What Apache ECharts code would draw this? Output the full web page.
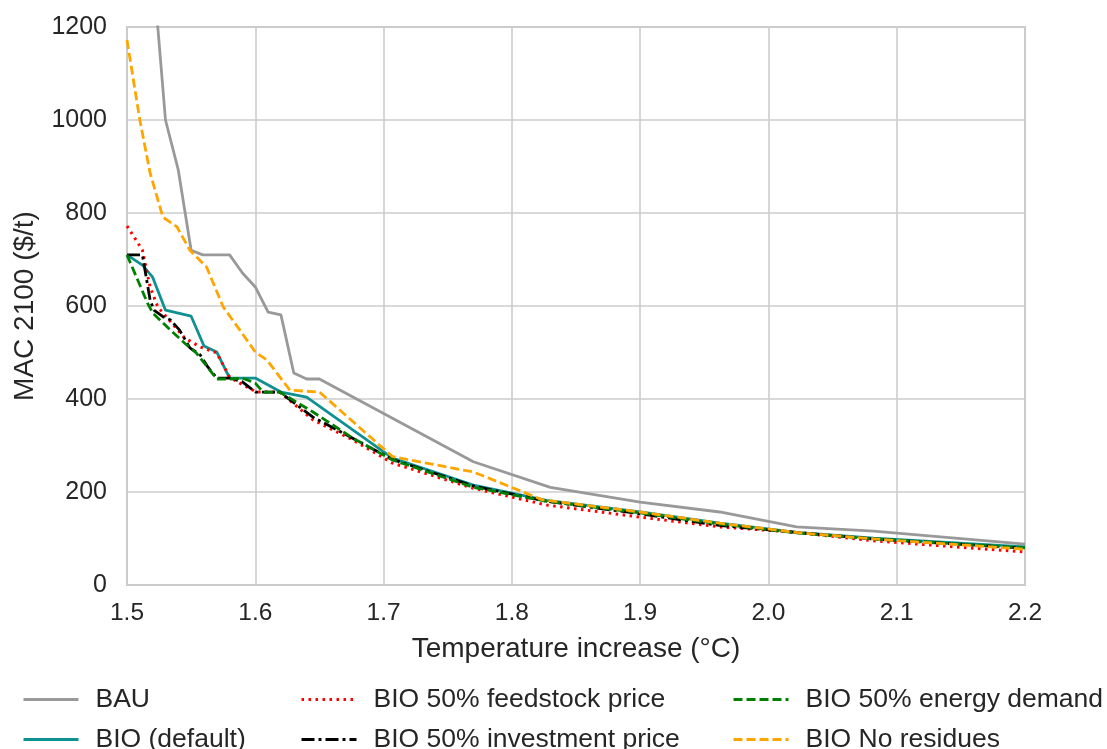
<!DOCTYPE html>
<html>
<head>
<meta charset="utf-8">
<script src="https://cdn.jsdelivr.net/npm/echarts@6/dist/echarts.min.js"></script>
<style>html,body{margin:0;padding:0;background:#fff}#c{width:1107px;height:749px}</style>
</head>
<body>
<div id="c"></div>
<script>
const xTicks = [1.5, 1.6, 1.7, 1.8, 1.9, 2.0, 2.1, 2.2];
const yTicks = [0, 200, 400, 600, 800, 1000, 1200];

const bauT = [1.522, 1.524, 1.530, 1.540, 1.550, 1.559, 1.580, 1.590, 1.600, 1.610, 1.620, 1.630, 1.640, 1.650, 1.770, 1.830, 1.900, 1.962, 2.022, 2.082, 2.200];
const bauV = [1260, 1200, 1000, 892, 720, 710, 710, 671, 641, 587, 581, 456, 443, 443, 265, 210, 178, 157, 125, 116, 88];

const bioT = [1.5, 1.512, 1.520, 1.530, 1.550, 1.560, 1.570, 1.580, 1.600, 1.620, 1.640, 1.707, 1.770, 1.827, 1.900, 1.962, 2.022, 2.082, 2.200];
const bioV = [710, 688, 662, 591, 578, 514, 501, 445, 445, 415, 404, 273, 215, 182, 157, 133, 113, 101, 82];

const feedT = [1.5, 1.507, 1.512, 1.518, 1.524, 1.545, 1.557, 1.570, 1.580, 1.588, 1.601, 1.619, 1.645, 1.676, 1.707, 1.770, 1.827, 1.900, 1.962, 2.022, 2.082, 2.200];
const feedV = [772, 742, 720, 641, 598, 531, 512, 499, 447, 434, 415, 415, 355, 312, 262, 208, 172, 146, 125, 113, 95, 71];

const invT = [1.5, 1.512, 1.518, 1.521, 1.528, 1.534, 1.541, 1.549, 1.557, 1.563, 1.570, 1.580, 1.590, 1.600, 1.619, 1.645, 1.707, 1.770, 1.827, 1.900, 1.962, 2.022, 2.082, 2.200];
const invV = [710, 710, 613, 591, 577, 570, 548, 510, 495, 469, 445, 445, 437, 415, 415, 361, 270, 213, 180, 153, 128, 113, 99, 79];

const enT = [1.5, 1.516, 1.520, 1.534, 1.545, 1.554, 1.570, 1.580, 1.590, 1.600, 1.606, 1.619, 1.645, 1.676, 1.707, 1.770, 1.827, 1.900, 1.962, 2.022, 2.082, 2.200];
const enV = [710, 606, 585, 548, 520, 499, 443, 443, 445, 434, 415, 415, 372, 316, 269, 210, 180, 155, 131, 112, 99, 80];

const nrT = [1.5, 1.510, 1.518, 1.528, 1.539, 1.549, 1.562, 1.575, 1.588, 1.600, 1.609, 1.627, 1.650, 1.707, 1.770, 1.824, 1.900, 1.962, 2.022, 2.082, 2.200];
const nrV = [1172, 1000, 886, 791, 770, 720, 684, 598, 548, 501, 484, 419, 415, 276, 243, 183, 157, 133, 113, 99, 77];

const names = ['BAU', 'BIO (default)', 'BIO 50% feedstock price', 'BIO 50% investment price', 'BIO 50% energy demand', 'BIO No residues'];

function pairs(t, v) { return t.map((x, i) => [x, v[i]]); }

const FONT = '"Liberation Sans", Arial, sans-serif';
const TXT = '#262626';

const chart = echarts.init(document.getElementById('c'), null, {renderer: 'canvas'});

function mk(name, t, v, color, type, width) {
  return {
    name: name, type: 'line', data: pairs(t, v), symbol: 'none', clip: true,
    lineStyle: {color: color, width: width || 2.8, type: type},
    itemStyle: {color: color},
    emphasis: {disabled: true}, animation: false
  };
}

function lg(name, left, top) {
  return {
    orient: 'horizontal', left: left, top: top, data: [name],
    itemWidth: 55, itemHeight: 14, itemGap: 0,
    itemStyle: {opacity: 0},
    lineStyle: {width: 3},
    textStyle: {fontFamily: FONT, fontSize: 26.5, color: TXT, padding: [0, 0, 0, 12]}
  };
}

chart.setOption({
  backgroundColor: '#ffffff',
  animation: false,
  grid: {left: 127, right: 82, top: 27, bottom: 164, show: true, borderColor: '#cccccc', borderWidth: 2, backgroundColor: 'transparent'},
  xAxis: {
    type: 'value', min: 1.5, max: 2.2, interval: 0.1,
    name: 'Temperature increase (°C)', nameLocation: 'middle', nameGap: 50,
    nameTextStyle: {fontFamily: FONT, fontSize: 28, color: TXT},
    axisLine: {show: false}, axisTick: {show: false},
    axisLabel: {fontFamily: FONT, fontSize: 24.5, color: TXT, margin: 16, formatter: v => (Math.round(v * 10) / 10).toFixed(1)},
    splitLine: {show: true, lineStyle: {color: '#cccccc', width: 1.6}}
  },
  yAxis: {
    type: 'value', min: 0, max: 1200, interval: 200,
    name: 'MAC 2100 ($/t)', nameLocation: 'middle', nameGap: 88,
    nameTextStyle: {fontFamily: FONT, fontSize: 28, color: TXT},
    axisLine: {show: false}, axisTick: {show: false},
    axisLabel: {fontFamily: FONT, fontSize: 25, color: TXT, margin: 20, formatter: v => String(v)},
    splitLine: {show: true, lineStyle: {color: '#cccccc', width: 1.6}}
  },
  legend: [
    lg(names[0], 17, 681), lg(names[1], 17, 721),
    lg(names[2], 295, 681), lg(names[3], 295, 721),
    lg(names[4], 727, 681), lg(names[5], 727, 721)
  ],
  series: [
    mk(names[0], bauT, bauV, '#999999', 'solid', 2.8),
    mk(names[1], bioT, bioV, '#0f9191', 'solid', 2.8),
    mk(names[2], feedT, feedV, '#ff0000', [2.5, 4.5], 3),
    mk(names[3], invT, invV, '#000000', [13, 4, 3, 4], 2.8),
    mk(names[4], enT, enV, '#008000', [9, 4], 2.8),
    mk(names[5], nrT, nrV, '#ffa500', [9, 4], 2.8)
  ]
});
</script>
</body>
</html>
